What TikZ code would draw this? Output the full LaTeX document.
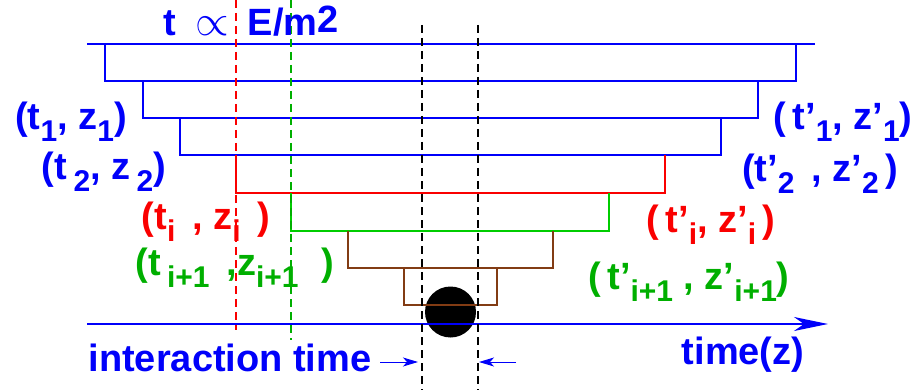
\documentclass[tikz,border=0pt]{standalone}
\usepackage{fontspec}
\setmainfont{Liberation Sans}
\definecolor{LineBlue}{RGB}{0,0,250}
\definecolor{LineRed}{RGB}{250,0,0}
\definecolor{LineGreen}{RGB}{0,205,0}
\definecolor{TextGreen}{RGB}{0,175,0}
\definecolor{LineBrown}{RGB}{130,60,20}
\usetikzlibrary{
    arrows.meta,
    positioning
}
\newcommand{\lowidx}[1]{\raisebox{-0.32em}{\fontsize{15}{16}\selectfont #1}}
\tikzset{
    label text/.style={
        font=\fontsize{19}{22}\selectfont\bfseries,
        inner sep=0pt
    },
    step line/.style={
        line width=0.8pt
    },
    guide line/.style={
        line width=0.55pt,
        dash pattern=on 4pt off 2.5pt
    }
}

\begin{document}
\begin{tikzpicture}[x=0.5pt,y=-0.5pt]
%
    \useasboundingbox (0,0) rectangle (910,390);
%
    % Interaction point
%
    \fill[black] (450.5,312) circle[radius=25.5];
%
    % Top line and blue steps
%
    \draw[
        step line,
        LineBlue
    ]
    (87,44)
    --
    (815,44);
%
    \draw[
        step line,
        LineBlue
    ]
    (105,44) -- (105,81) -- (796,81) -- (796,44);
    \draw[
        step line,
        LineBlue
    ]
    (143,81) -- (143,118) -- (758,118) -- (758,81);
    \draw[
        step line,
        LineBlue
    ]
    (180,118) -- (180,155) -- (721,155) -- (721,118);
%
    % Red step
%
    \draw[
        step line,
        LineRed
    ]
    (236,155) -- (236,193) -- (665,193) -- (665,155);
%
    % Green step
%
    \draw[
        step line,
        LineGreen
    ]
    (291,193) -- (291,231) -- (609,231) -- (609,193);
%
    % Brown steps
%
    \draw[
        step line,
        LineBrown
    ]
    (348,231) -- (348,268) -- (553,268) -- (553,231);
    \draw[
        step line,
        LineBrown
    ]
    (404,268) -- (404,305) -- (497,305) -- (497,268);
%
    % Time axis
%
    \coordinate (axis-start) at (87,324);
    \coordinate (axis-end) at (828,324);
    \draw[
        -{Stealth[length=17pt,width=7pt,inset=5pt]},
        line width=0.8pt,
        LineBlue
    ]
    (axis-start)
    --
    (axis-end);
%
    % Guide lines
%
    \draw[guide line, LineRed] (236,0) -- (236,330);
    \draw[guide line, TextGreen] (291,0) -- (291,340);
    \draw[guide line, black] (422,25) -- (422,390);
    \draw[guide line, black] (478,25) -- (478,390);
%
    % Labels
%
    \node[
        label text,
        LineBlue,
        anchor=base west
    ]
    (prop-label) at (163,36) {
        t\hspace{0.5em}\scalebox{1.25}{$\propto$}\hspace{0.5em}E/m\raisebox{0.1em}{2}
    };
%
    \node[label text, LineBlue] (first-in) at (71,122) {
        (t\lowidx{1}, z\lowidx{1})
    };
    \node[label text, LineBlue] (second-in) at (104,172) {
        (t\,\lowidx{2}, z\,\lowidx{2})
    };
    \node[label text, LineRed] (ith-in) at (206,222) {
        (t\lowidx{i}\, , z\lowidx{i}\, )
    };
    \node[label text, TextGreen] (next-in) at (235,268) {
        (t\,\lowidx{i+1}\, ,z\lowidx{i+1}\,\, )
    };
%
    \node[label text, LineBlue] (first-out) at (843,122) {
        (\,t'\lowidx{1}, z'\lowidx{1})
    };
    \node[label text, LineBlue] (second-out) at (820,174) {
        (t'\lowidx{2}\, , z'\lowidx{2}\,)
    };
    \node[label text, LineRed] (ith-out) at (711,225) {
        (\,t'\lowidx{i}, z'\lowidx{i}\,)
    };
    \node[label text, TextGreen] (next-out) at (689,282) {
        (\,t'\lowidx{i+1} , z'\lowidx{i+1})
    };
%
    \node[label text, LineBlue] (axis-label) at (743,355) {
        time(z)
    };
%
    % Interaction time
%
    \node[label text, LineBlue] (itime-label) at (230,358) {
        interaction time
    };
    \coordinate (itime-left) at (380,362);
    \coordinate (itime-left-tip) at (418,362);
    \coordinate (itime-right) at (516,362);
    \coordinate (itime-right-tip) at (479,362);
    \draw[
        -{Stealth[length=7.5pt,width=4.5pt,inset=2pt]},
        line width=0.5pt,
        LineBlue
    ] (itime-left) -- (itime-left-tip);
    \draw[
        -{Stealth[length=7.5pt,width=4.5pt,inset=2pt]},
        line width=0.5pt,
        LineBlue
    ] (itime-right) -- (itime-right-tip);
%
\end{tikzpicture}
\end{document}
